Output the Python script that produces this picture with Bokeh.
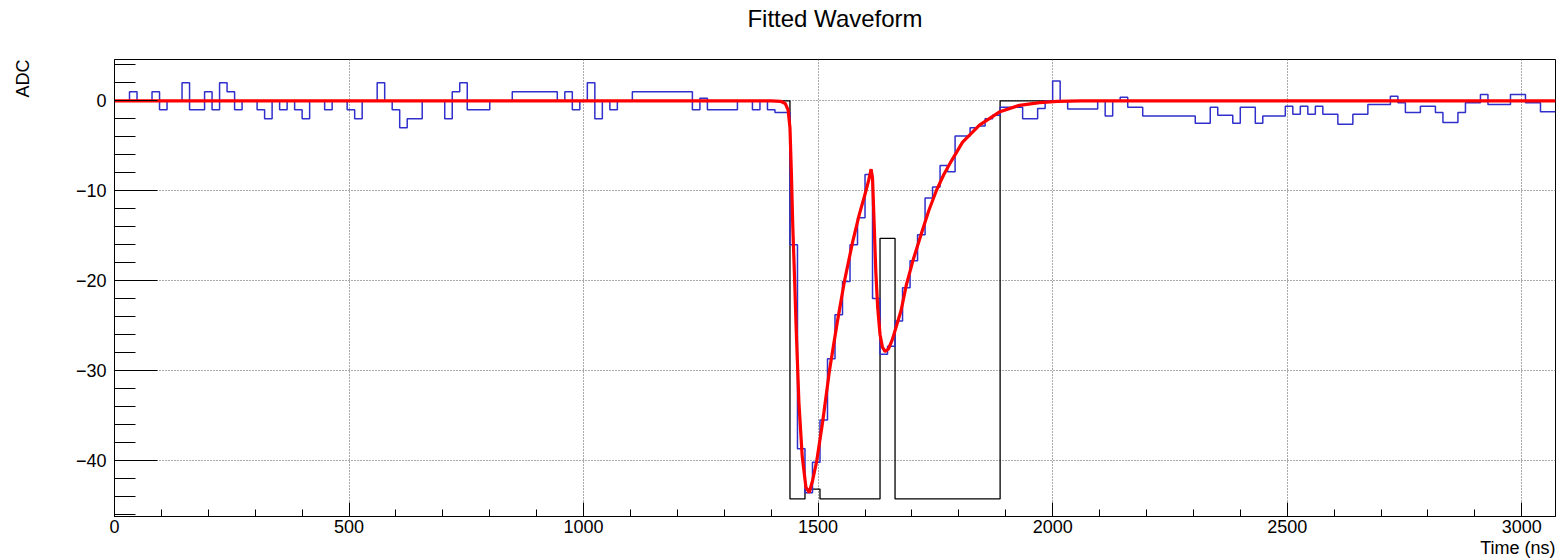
from bokeh.plotting import figure
from bokeh.models import Range1d, SingleIntervalTicker, Title
from bokeh.embed import file_html
from bokeh.resources import INLINE

# ---------------- data ----------------
bin_width = 16  # ns
adc = [
    0, 0, 1, 0, 0, 1, -1, 0, 0, 2,             # 0-9
    -1, -1, 1, -1, 2, 1, -1, 0, 0, -1,         # 10-19
    -2, 0, -1, 0, -1, -2, 0, 0, -1, 0,         # 20-29
    0, -1, -2, 0, 0, 2, 0, -1, -3, -2,         # 30-39
    -2, 0, 0, 0, -2, 1, 2, -1, -1, -1,         # 40-49
    0, 0, 0, 1, 1, 1, 1, 1, 1, 0,              # 50-59
    1, -1, 0, 2, -2, 0, -1, 0, 0, 1,           # 60-69
    1, 1, 1, 1, 1, 1, 1, -1, 0.3, -1,          # 70-79
    -1, -1, -1, 0, 0, -1, 0, -1, -1.3, -1.3,   # 80-89
    -16.0, -38.7, -43.6, -40.2, -35.5, -28.7, -23.8, -20.1, -16.0, -13.0,  # 90-99
    -8.2, -22.0, -28.2, -27.3, -24.5, -20.8, -17.8, -14.9, -10.8, -9.6,    # 100-109
    -7.2, -7.9, -3.9, -3.9, -3.0, -2.8, -2.0, -1.6, -0.7, -0.7,            # 110-119
    -0.7, -2.0, -2.0, -0.85, 0, 2.2, 0, -0.9, -0.9, -0.9,                  # 120-129
    -0.9, 0, -1.7, 0, 0.4, -0.7, -0.7, -1.7, -1.7, -1.7,                   # 130-139
    -1.7, -1.7, -1.7, -1.7, -2.5, -2.5, -0.7, -1.6, -1.6, -2.5,            # 140-149
    -0.7, -0.7, -2.5, -1.7, -1.7, -1.7, -0.6, -1.5, -0.6, -1.5,            # 150-159
    -0.6, -1.5, -1.5, -2.6, -2.6, -1.5, -1.5, -0.4, -0.4, -0.4,            # 160-169
    0.5, -0.2, -1.3, -1.3, -0.6, -0.6, -1.3, -2.4, -2.4, -1.3,             # 170-179
    -0.2, -0.2, 0.7, -0.4, -0.4, -0.4, 0.7, 0.7, -0.2, -0.2,               # 180-189
    -1.2, -1.2,                                                            # 190-191
]

window_edges = [0, 1440, 1472, 1504, 1632, 1664, 1888, 3072]
window_vals = [0, -44.3, -43.2, -44.3, -15.3, -44.3, 0]

fit_t = [0, 1400, 1420, 1430, 1436, 1440, 1443, 1446, 1450, 1453, 1459, 1466,
         1474, 1481, 1488, 1497, 1510, 1524, 1540, 1556, 1574, 1588, 1600, 1608,
         1613, 1616, 1619, 1623, 1627, 1632, 1637, 1643, 1650, 1658, 1665, 1677,
         1688, 1702, 1720, 1736, 1752, 1768, 1784, 1808, 1844, 1886, 1929, 1972,
         2010, 2060, 3072]
fit_adc = [0, 0, -0.05, -0.3, -1.0, -3.0, -8.0, -14.0, -20.0, -25.0, -33.5, -39.5,
           -43.0, -43.6, -42.3, -40.1, -35.6, -30.1, -24.9, -20.1, -15.6, -12.6, -10.4, -8.8,
           -7.6, -8.6, -13.0, -19.0, -23.0, -26.0, -27.4, -27.9, -27.6, -26.6, -25.4, -23.3,
           -20.5, -17.8, -14.8, -12.2, -10.0, -8.2, -6.7, -4.6, -2.7, -1.25, -0.5, -0.2,
           -0.05, 0, 0]

y_ticks = [0, -10, -20, -30, -40]
y_tick_labels = ["0", "\u221210", "\u221220", "\u221230", "\u221240"]

title_text = "Fitted Waveform"
x_title = "Time (ns)"
y_title = "ADC"

X_MIN, X_MAX = 0, 3072
Y_MIN, Y_MAX = -46.25, 4.6
FONT = "Liberation Sans"

# ---------------- figure ----------------
p = figure(width=1559, height=559, x_range=Range1d(X_MIN, X_MAX), y_range=Range1d(Y_MIN, Y_MAX),
           output_backend="svg", toolbar_location=None,
           min_border_left=114, min_border_right=4, min_border_top=59, min_border_bottom=43)
# blank trailing line lifts the title text towards the canvas top
p.title.text = title_text + "\n "
p.title.align = "center"
p.title.vertical_align = "bottom"
p.title.text_font = FONT
p.title.text_font_size = "24px"
p.title.text_font_style = "normal"
p.title.text_color = "black"
p.title.standoff = 2

p.background_fill_color = "white"
p.border_fill_color = "white"
p.outline_line_color = "black"
p.outline_line_width = 1

p.xaxis.ticker = SingleIntervalTicker(interval=500, num_minor_ticks=5)
p.yaxis.ticker = SingleIntervalTicker(interval=10, num_minor_ticks=5)
p.yaxis.major_label_overrides = {t: l for t, l in zip(y_ticks, y_tick_labels)}

for ax in (p.xaxis, p.yaxis):
    ax.axis_line_color = "black"
    ax.major_tick_line_color = "black"
    ax.minor_tick_line_color = "black"
    ax.major_tick_out = 0
    ax.minor_tick_out = 0
    ax.major_label_text_font = FONT
    ax.major_label_text_font_size = "18px"
    ax.major_label_text_color = "black"
p.xaxis.major_tick_in = 14
p.xaxis.minor_tick_in = 7
p.yaxis.major_tick_in = 43
p.yaxis.minor_tick_in = 21
p.xaxis.major_label_standoff = 3
p.yaxis.major_label_standoff = 8

for g in (p.xgrid, p.ygrid):
    g.grid_line_color = "#555555"
    g.grid_line_dash = "1 2"
    g.grid_line_width = 1

# axis titles, aligned to the axis ends
p.add_layout(Title(text=x_title, align="right", text_font=FONT, text_font_size="18px",
                   text_font_style="normal", text_color="black", standoff=0), "below")
p.add_layout(Title(text=y_title + "\n \n ", align="right", vertical_align="bottom", text_font=FONT,
                   text_font_size="18px", text_font_style="normal", text_color="black",
                   standoff=0), "left")

# window histogram (black)
p.step(x=window_edges, y=window_vals + [window_vals[-1]], mode="after",
       line_color="black", line_width=1.3)

# waveform histogram (blue)
edges = [i * bin_width for i in range(len(adc) + 1)]
p.step(x=edges, y=adc + [adc[-1]], mode="after", line_color="#3030cc", line_width=1.5)

# fit (red)
p.line(x=fit_t, y=fit_adc, line_color="#ff0000", line_width=3.2)

open("out.html", "w").write(file_html(p, INLINE))
